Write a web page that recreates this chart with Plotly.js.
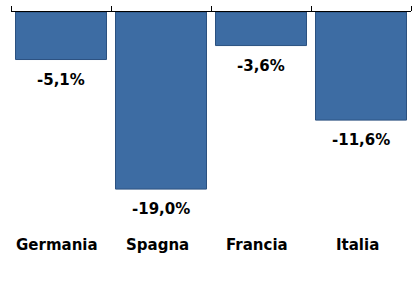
<!DOCTYPE html>
<html>
<head>
<meta charset="utf-8">
<script src="https://cdn.plot.ly/plotly-3.0.1.min.js"></script>
<style>html,body{margin:0;padding:0;background:#fff;}#chart{width:417px;height:282px;}</style>
</head>
<body>
<div id="chart"></div>
<script>
const categories = ["Germania", "Spagna", "Francia", "Italia"];
const values = [-5.1, -19.0, -3.6, -11.6];
const valueLabels = ["-5,1%", "-19,0%", "-3,6%", "-11,6%"];

const font = "DejaVu Sans, Verdana, sans-serif";

const trace = {
  type: "bar",
  x: categories,
  y: values,
  marker: { color: "#3d6ca3", line: { color: "#2b5180", width: 1 } },
  hoverinfo: "none"
};

const annotations = [];
categories.forEach((c, i) => {
  annotations.push({
    x: c, y: values[i], xref: "x", yref: "y",
    text: "<b>" + valueLabels[i] + "</b>",
    showarrow: false, yanchor: "middle", yshift: -20,
    font: { family: font, size: 15, color: "#000" }
  });
  annotations.push({
    x: c, y: 0, xref: "x", yref: "paper",
    text: "<b>" + c + "</b>",
    showarrow: false, yanchor: "middle", xshift: -4, yshift: 0,
    font: { family: font, size: 15, color: "#000" }
  });
});

const layout = {
  width: 417, height: 282,
  margin: { l: 11, r: 6, t: 12, b: 37 },
  paper_bgcolor: "#fff", plot_bgcolor: "#fff",
  showlegend: false,
  bargap: 0.09,
  xaxis: {
    side: "top", showline: true, linecolor: "#000", linewidth: 1,
    ticks: "outside", tickson: "boundaries", ticklen: 5, tickcolor: "#000",
    showticklabels: false, showgrid: false, zeroline: false, fixedrange: true
  },
  yaxis: {
    range: [-25, 0], showgrid: false, zeroline: false, showline: false,
    showticklabels: false, ticks: "", fixedrange: true
  },
  annotations: annotations
};

Plotly.newPlot("chart", [trace], layout, { staticPlot: true, displayModeBar: false });
</script>
</body>
</html>
